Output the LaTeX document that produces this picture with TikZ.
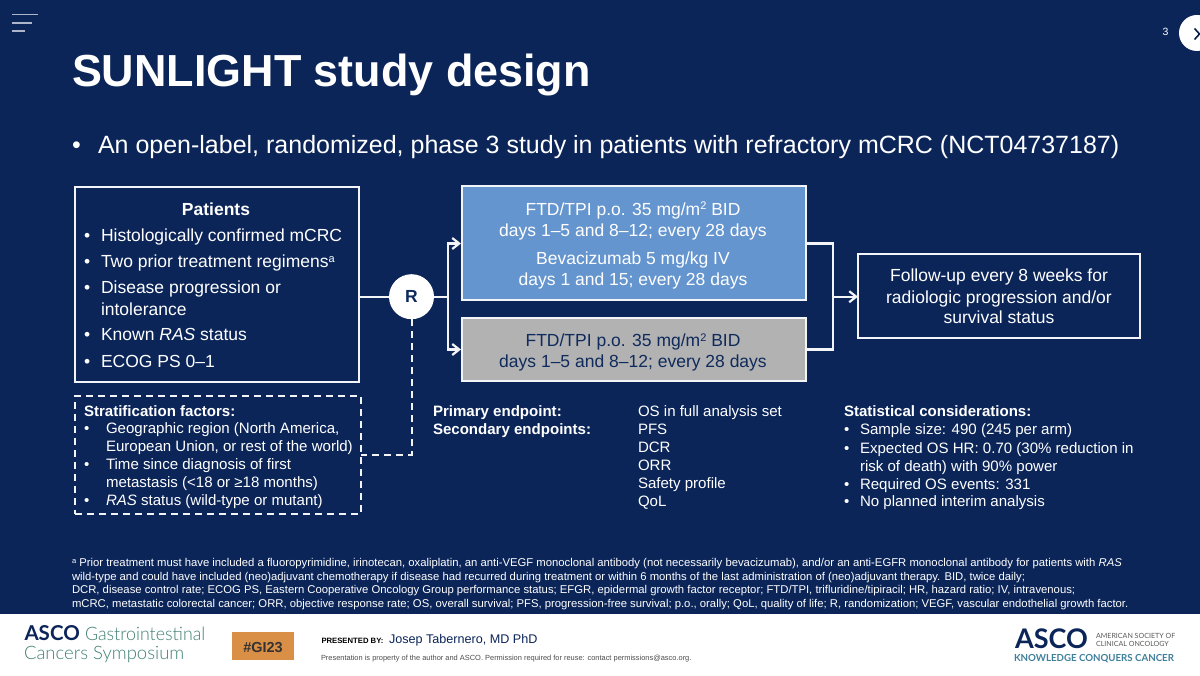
\documentclass[tikz,border=0pt]{standalone}
\usepackage{fontspec}
\setmainfont{Liberation Sans}
\newfontfamily\logofont{Lato}
\newfontfamily\logolight{Lato Light}
\usetikzlibrary{arrows.meta}
\definecolor{navy}{HTML}{0B2559}
\definecolor{armblue}{HTML}{6595CE}
\definecolor{armgray}{HTML}{B2B2B2}
\definecolor{inktext}{HTML}{0F2A5C}
\definecolor{orangebox}{HTML}{D98F45}
\definecolor{logogreen}{HTML}{3F7F74}
\definecolor{logoblue}{HTML}{3F7F9C}
\definecolor{softwhite}{HTML}{F2F4F8}
\newcommand{\fs}[1]{\fontsize{#1}{#1}\selectfont}
\tikzset{
  x=1pt,y=-1pt,
  txt/.style={inner sep=0pt,outer sep=0pt,text=white,anchor=base west},
  ctr/.style={inner sep=0pt,outer sep=0pt,text=white,anchor=base},
  lineb/.style={txt,font=\fs{17.5}},
  arm/.style={ctr,font=\fs{17.5}},
  small/.style={txt,font=\fs{15.05}},
  smallb/.style={txt,font=\bfseries\fs{15.05}},
  foot/.style={txt,font=\fs{11.3}},
  bx/.style={draw=softwhite,line width=2pt,inner sep=0pt,outer sep=0pt,anchor=north west},
  conn/.style={draw=softwhite,line width=2.2pt},
  arr/.style={conn,-{Straight Barb[length=7pt,width=11pt,line width=2.2pt]}},
  dashline/.style={draw=softwhite,line width=2pt,dash pattern=on 7pt off 5pt},
}
\begin{document}
\begin{tikzpicture}
\useasboundingbox (0,0) rectangle (1200,676);
\fill[white] (0,0) rectangle (1200,676);
\fill[navy] (0,0) rectangle (1200,614);
% menu icon
\draw[softwhite!70!navy,line width=1.8pt] (12,14.5)--(38,14.5) (12,22.7)--(32,22.7) (12,30.7)--(25,30.7);
% page number and next button
\node[txt,font=\fs{10.5}] (pagenum) at (1162.5,36) {3};
\node[circle,fill=white,minimum size=36pt,inner sep=0pt] (nextbtn) at (1197,33) {};
\draw[navy!80!black,line width=1.6pt] (1194.5,28.5)--(1199.5,34)--(1194.5,39.5);
% title
\node[txt,font=\bfseries\fs{44.9}] (title) at (72,87) {SUNLIGHT study design};
\node[txt,font=\fs{25}] (bul0) at (72,154) {•};
\node[txt,font=\fs{25}] (subtitle) at (98,154) {An open-label, randomized, phase 3 study in patients with refractory mCRC (NCT04737187)};
% boxes
\node[bx,minimum width=284pt,minimum height=195pt] (patients) at (75,187) {};
\node[bx,fill=armblue,minimum width=344pt,minimum height=114pt] (armA) at (461.5,186) {};
\node[bx,fill=armgray,minimum width=344pt,minimum height=63pt] (armB) at (461.5,318) {};
\node[bx,minimum width=282pt,minimum height=84pt] (follow) at (858,254) {};
\node[bx,dashline,minimum width=286pt,minimum height=118pt] (strat) at (75,396) {};
\node[circle,fill=white,minimum size=45pt,inner sep=0pt,text=inktext,font=\bfseries\fs{17.5}] (R) at (411.5,296.7) {R};
% connectors
\coordinate (split) at (448,296.7);
\coordinate (joinx) at (833,296.7);
\coordinate (stratcorner) at (411.5,455);
\coordinate (stratend) at (361,455);
\coordinate (armAin) at (461,243.5);
\coordinate (armAout) at (806,243.5);
\coordinate (armBin) at (461,349.5);
\coordinate (armBout) at (806,349.5);
\draw[conn] (patients.east |- R) -- (R);
\draw[conn] (R) -- (split);
\draw[arr] (split) |- (armAin);
\draw[arr] (split) |- (armBin);
\draw[conn] (armAout) -| (joinx);
\draw[conn] (armBout) -| (joinx);
\draw[arr] (joinx) -- (follow.west |- joinx);
\draw[dashline] (R.south) -- (stratcorner) -- (stratend);
% patients text
\node[ctr,font=\bfseries\fs{17.5}] (pt0) at (216,215.5) {Patients};
\foreach \n/\y in {a/242,b/268,c/294,d/341,e/367}{\node[lineb] (pb\n) at (84,\y) {•};}
\node[lineb] (pt1) at (101,242) {Histologically confirmed mCRC};
\node[lineb] (pt2) at (101,268) {Two prior treatment regimens\raisebox{5.5pt}{\fs{11}a}};
\node[lineb] (pt3) at (101,294) {Disease progression or};
\node[lineb] (pt4) at (101,315.5) {intolerance};
\node[lineb] (pt5) at (101,341) {Known \textit{RAS} status};
\node[lineb] (pt6) at (101,367) {ECOG PS 0–1};
% arm text
\node[arm] (a1) at (633,215.5) {FTD/TPI p.o. 35 mg/m\raisebox{5.5pt}{\fs{11}2} BID};
\node[arm] (a2) at (633,236.5) {days 1–5 and 8–12; every 28 days};
\node[arm] (a3) at (633,264.5) {Bevacizumab 5 mg/kg IV};
\node[arm] (a4) at (633,285.5) {days 1 and 15; every 28 days};
\node[arm,text=inktext] (b1) at (633,346.5) {FTD/TPI p.o. 35 mg/m\raisebox{5.5pt}{\fs{11}2} BID};
\node[arm,text=inktext] (b2) at (633,367.5) {days 1–5 and 8–12; every 28 days};
% follow text
\node[arm] (f1) at (999,282) {Follow-up every 8 weeks for};
\node[arm] (f2) at (999,304) {radiologic progression and/or};
\node[arm] (f3) at (999,324) {survival status};
% stratification
\node[smallb] (s0) at (84,416) {Stratification factors:};
\foreach \n/\y in {a/433.5,b/469.5,c/505.5}{\node[small] (sb\n) at (84,\y) {•};}
\node[small] (s1) at (106,433.5) {Geographic region (North America,};
\node[small] (s2) at (106,451.5) {European Union, or rest of the world)};
\node[small] (s3) at (106,469.5) {Time since diagnosis of first};
\node[small] (s4) at (106,487.5) {metastasis (<18 or ≥18 months)};
\node[small] (s5) at (106,505.5) {\textit{RAS} status (wild-type or mutant)};
% endpoints
\node[smallb] (e1) at (433,416) {Primary endpoint:};
\node[smallb] (e2) at (433,434) {Secondary endpoints:};
\node[small] (e3) at (638,416) {OS in full analysis set};
\node[small] (e4) at (638,434) {PFS};
\node[small] (e5) at (638,452) {DCR};
\node[small] (e6) at (638,470) {ORR};
\node[small] (e7) at (638,488) {Safety profile};
\node[small] (e8) at (638,506) {QoL};
% statistics
\node[smallb] (t0) at (844,417) {Statistical considerations:};
\foreach \n/\y in {a/435,b/453,c/489,d/506.5}{\node[small] (tb\n) at (844,\y) {•};}
\node[small] (t1) at (860,435) {Sample size: 490 (245 per arm)};
\node[small] (t2) at (860,453) {Expected OS HR: 0.70 (30\% reduction in};
\node[small] (t3) at (860,471) {risk of death) with 90\% power};
\node[small] (t4) at (860,489) {Required OS events: 331};
\node[small] (t5) at (860,506.5) {No planned interim analysis};
% footnote
\node[foot] (n1) at (72,566) {\raisebox{3pt}{\fs{7.5}a} Prior treatment must have included a fluoropyrimidine, irinotecan, oxaliplatin, an anti-VEGF monoclonal antibody (not necessarily bevacizumab), and/or an anti-EGFR monoclonal antibody for patients with \textit{RAS}};
\node[foot] (n2) at (72,580) {wild-type and could have included (neo)adjuvant chemotherapy if disease had recurred during treatment or within 6 months of the last administration of (neo)adjuvant therapy. BID, twice daily;};
\node[foot] (n3) at (72,593.5) {DCR, disease control rate; ECOG PS, Eastern Cooperative Oncology Group performance status; EFGR, epidermal growth factor receptor; FTD/TPI, trifluridine/tipiracil; HR, hazard ratio; IV, intravenous;};
\node[foot] (n4) at (72,607) {mCRC, metastatic colorectal cancer; ORR, objective response rate; OS, overall survival; PFS, progression-free survival; p.o., orally; QoL, quality of life; R, randomization; VEGF, vascular endothelial growth factor.};
% footer
\node[txt,text=navy,font=\logofont\bfseries\fs{20.5}] (asco1) at (24.5,640) {ASCO};
\node[txt,text=logogreen,font=\logolight\fs{18.5}] (asco2) at (85,640) {\scalebox{0.963}[1]{Gastrointestinal}};
\node[txt,text=logogreen,font=\logolight\fs{18.5}] (asco3) at (24,659) {Cancers Symposium};
\node[fill=orangebox,anchor=north west,minimum width=62.5pt,minimum height=28pt,inner sep=0pt] (tag) at (231.5,632) {};
\node[ctr,text=black!80,font=\bfseries\fs{14.5}] (taglabel) at (263,652) {\#GI23};
\node[txt,text=black,font=\bfseries\fs{7.7}] (pres) at (321.5,643) {PRESENTED BY:};
\node[txt,text=navy,font=\fs{12.6}] (name) at (389,643) {Josep Tabernero, MD PhD};
\node[txt,text=black!70,font=\fs{7.44}] (prop) at (321,660) {Presentation is property of the author and ASCO. Permission required for reuse: contact permissions@asco.org.};
\node[txt,text=navy,font=\logofont\bfseries\fs{27}] (asco4) at (1015,648.5) {ASCO};
\node[txt,text=black!65,font=\logofont\fs{7.1}] (soc1) at (1096,638) {AMERICAN SOCIETY OF};
\node[txt,text=black!65,font=\logofont\fs{7.1}] (soc2) at (1096,646) {CLINICAL ONCOLOGY};
\node[txt,text=logoblue,font=\logofont\bfseries\fs{9.7}] (kcc) at (1014,661) {KNOWLEDGE CONQUERS CANCER};
\end{tikzpicture}
\end{document}
